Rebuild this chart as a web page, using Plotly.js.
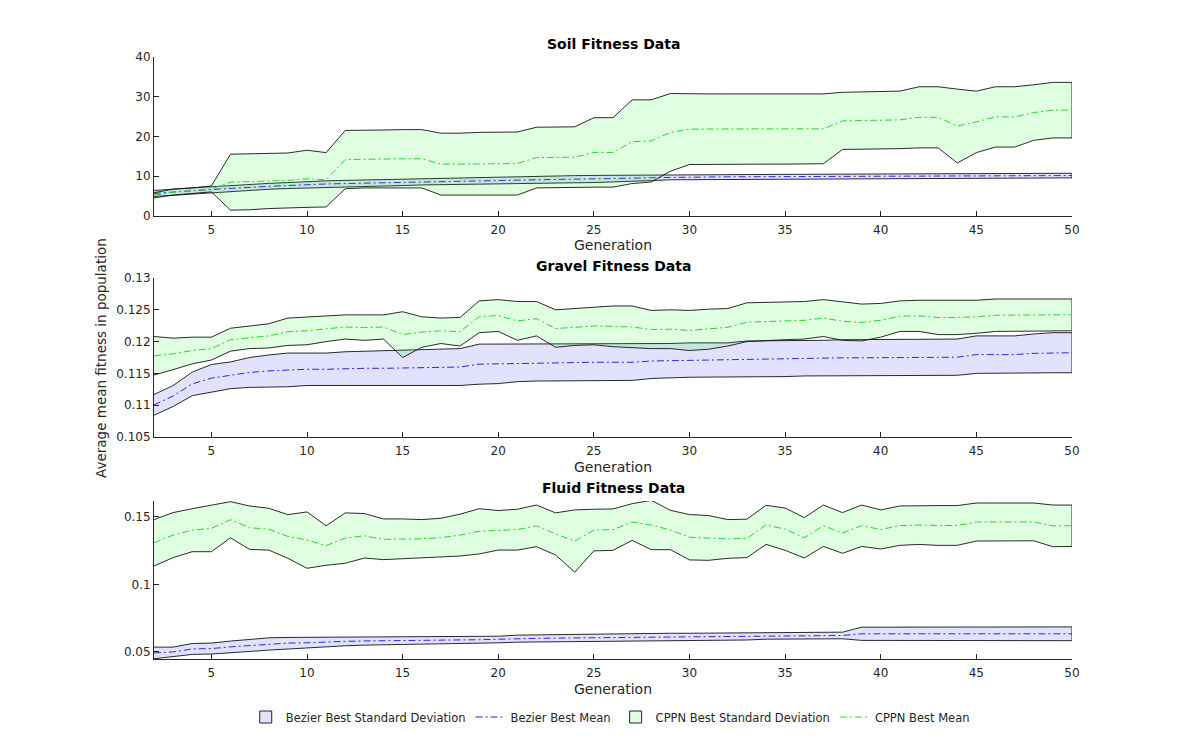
<!DOCTYPE html>
<html>
<head>
<meta charset="utf-8">
<script src="https://cdn.plot.ly/plotly-3.0.1.min.js"></script>
<style>
  html, body { margin: 0; padding: 0; background: #fff; }
  #chart { width: 1186px; height: 742px; }
</style>
</head>
<body>
<div id="chart"></div>
<script>
// Generations 2..50
const generations = [2,3,4,5,6,7,8,9,10,11,12,13,14,15,16,17,18,19,20,21,22,23,24,25,26,
  27,28,29,30,31,32,33,34,35,36,37,38,39,40,41,42,43,44,45,46,47,48,49,50];

// Soil fitness
const soilBezierMean = [5.6,6.0,6.3,6.6,6.9,7.1,7.4,7.6,7.85,8.0,8.1,8.2,8.3,8.4,8.55,8.7,8.8,8.9,9.0,9.05,
  9.1,9.15,9.2,9.25,9.35,9.45,9.55,9.65,9.75,9.8,9.8,9.82,9.84,9.86,9.88,9.9,9.9,9.92,9.94,9.96,
  9.98,10.0,10.0,10.02,10.04,10.06,10.08,10.1,10.12];
const soilBezierStd = [0.75,0.75,0.72,0.7,0.72,0.73,0.74,0.75,0.75,0.78,0.8,0.8,0.8,0.8,0.8,0.82,0.82,0.85,0.88,0.88,
  0.88,0.9,0.9,0.9,0.85,0.8,0.7,0.6,0.55,0.55,0.55,0.55,0.56,0.56,0.56,0.57,0.57,0.57,0.58,0.58,
  0.58,0.58,0.58,0.58,0.58,0.58,0.58,0.58,0.58];
const soilCppnMean = [5.15,5.95,6.3,6.75,8.45,8.55,8.75,8.9,9.3,9.05,14.15,14.25,14.3,14.35,14.35,13.0,13.0,13.1,13.15,13.15,
  14.65,14.65,14.75,15.95,15.95,18.65,18.85,21.0,21.8,21.85,21.85,21.85,21.85,21.85,21.85,21.9,23.9,24.0,24.0,24.15,
  24.8,24.8,22.6,23.65,24.9,24.9,26.0,26.6,26.6];
const soilCppnStd = [0.65,0.75,0.7,0.75,7.05,7.05,6.95,6.9,7.2,6.85,7.35,7.25,7.3,7.35,7.35,7.8,7.8,7.9,7.95,7.95,
  7.65,7.65,7.65,8.75,8.75,10.55,10.35,9.8,8.9,8.85,8.85,8.85,8.85,8.85,8.85,8.8,7.2,7.2,7.2,7.25,
  7.7,7.7,9.3,7.75,7.6,7.6,7.0,7.0,7.0];

// Gravel fitness
const gravelBezierMean = [0.11005,0.11145,0.11335,0.11425,0.1147,0.11515,0.1154,0.11555,0.11565,0.11565,0.11575,0.1158,0.1158,0.11585,0.11595,0.11595,0.116,0.11645,0.1165,0.11665,
  0.1167,0.1167,0.11675,0.11675,0.11675,0.11675,0.11695,0.117,0.1171,0.11715,0.11715,0.1173,0.1173,0.1173,0.11735,0.1174,0.11745,0.11745,0.11745,0.11755,
  0.11755,0.11755,0.11755,0.11795,0.11795,0.11795,0.11815,0.11825,0.11825];
const gravelBezierStd = [0.00163,0.00165,0.00185,0.00215,0.0021,0.00235,0.0025,0.00265,0.00255,0.00255,0.00265,0.0027,0.0027,0.00275,0.00285,0.00285,0.0029,0.00315,0.0031,0.00295,
  0.0029,0.0029,0.00285,0.00285,0.00285,0.00285,0.00275,0.0027,0.0027,0.00265,0.00265,0.0028,0.0028,0.0028,0.00275,0.0028,0.00285,0.00285,0.00285,0.00285,
  0.00285,0.00285,0.00285,0.00295,0.00295,0.00295,0.00305,0.00315,0.00315];
const gravelCppnMean = [0.11777,0.11807,0.1186,0.1189,0.1203,0.12065,0.1209,0.12155,0.1217,0.122,0.1223,0.1222,0.1223,0.1211,0.1215,0.1217,0.12155,0.1239,0.1241,0.12325,
  0.1236,0.12205,0.1223,0.12245,0.1224,0.1223,0.1219,0.12195,0.12175,0.12195,0.12225,0.12305,0.1232,0.12325,0.12335,0.1237,0.1232,0.123,0.12335,0.124,
  0.12405,0.1238,0.1238,0.1239,0.12415,0.1242,0.1242,0.1242,0.1242];
const gravelCppnStd = [0.00303,0.00247,0.0021,0.0018,0.0018,0.00175,0.0019,0.00215,0.0022,0.002,0.0019,0.002,0.0019,0.0036,0.0024,0.002,0.00225,0.0025,0.0025,0.00305,
  0.0027,0.00295,0.0029,0.00295,0.0032,0.0033,0.003,0.00305,0.00315,0.00315,0.00295,0.00305,0.003,0.00295,0.00295,0.0029,0.003,0.0029,0.00265,0.0024,
  0.00245,0.0027,0.0027,0.0026,0.00255,0.0025,0.0025,0.0025,0.0025];

// Fluid fitness
const fluidBezierMean = [0.0491,0.04985,0.05205,0.05235,0.0536,0.05465,0.05575,0.0564,0.0566,0.0573,0.0577,0.058,0.05825,0.0584,0.0585,0.05865,0.05875,0.0589,0.05905,0.0597,
  0.0599,0.0601,0.0603,0.06055,0.06075,0.06085,0.0609,0.061,0.06105,0.06115,0.0612,0.06125,0.0616,0.0618,0.06185,0.0619,0.06205,0.0633,0.0633,0.0633,
  0.0633,0.0633,0.0633,0.0633,0.0633,0.0633,0.0633,0.0633,0.0633];
const fluidBezierStd = [0.0043,0.00355,0.00405,0.00405,0.0043,0.00445,0.00455,0.0042,0.0041,0.0036,0.0033,0.0031,0.00285,0.0028,0.0027,0.00265,0.00255,0.0025,0.00245,0.0026,
  0.0026,0.0026,0.0026,0.00265,0.00275,0.00275,0.0027,0.0027,0.00265,0.00265,0.0026,0.00255,0.0023,0.0022,0.00225,0.0023,0.00245,0.0049,0.0049,0.0049,
  0.0049,0.0049,0.0049,0.0049,0.0049,0.0049,0.0051,0.0051,0.0051];
const fluidCppnMean = [0.1308,0.1365,0.14015,0.1415,0.1479,0.142,0.1409,0.1355,0.1328,0.12875,0.1343,0.136,0.1334,0.13365,0.13375,0.1346,0.1365,0.1393,0.14005,0.14055,
  0.14335,0.13735,0.1321,0.14025,0.14055,0.1462,0.144,0.1403,0.1349,0.1344,0.13365,0.13405,0.1441,0.1409,0.1345,0.14345,0.1381,0.14345,0.1407,0.1435,
  0.144,0.14365,0.14365,0.1462,0.1463,0.1463,0.1463,0.14335,0.14345];
const fluidCppnStd = [0.0172,0.0167,0.01595,0.0173,0.0134,0.0161,0.0155,0.0162,0.0209,0.01465,0.0187,0.0165,0.0151,0.01485,0.01425,0.0144,0.0155,0.0168,0.01465,0.01515,
  0.01545,0.01565,0.0231,0.01545,0.01535,0.0136,0.0183,0.0146,0.0168,0.0166,0.01435,0.01425,0.0145,0.0157,0.015,0.01535,0.0151,0.01535,0.0145,0.0146,
  0.0144,0.01475,0.01475,0.0141,0.014,0.014,0.014,0.01545,0.01535];

// Panel titles, axis ranges and tick labels
const panelTitles = ['Soil Fitness Data', 'Gravel Fitness Data', 'Fluid Fitness Data'];
const xTickVals = [5,10,15,20,25,30,35,40,45,50];
const soilTickVals = [0,10,20,30,40];
const soilTickText = ['0','10','20','30','40'];
const gravelTickVals = [0.105,0.11,0.115,0.12,0.125,0.13];
const gravelTickText = ['0.105','0.11','0.115','0.12','0.125','0.13'];
const fluidTickVals = [0.05,0.1,0.15];
const fluidTickText = ['0.05','0.1','0.15'];
const seriesNames = ['Bezier Best Standard Deviation','Bezier Best Mean','CPPN Best Standard Deviation','CPPN Best Mean'];

const FONT = 'DejaVu Sans, Arial, sans-serif';
const AXIS_COLOR = '#262626';
const bezierFill = 'rgba(0,0,255,0.115)';
const cppnFill = 'rgba(0,255,0,0.12)';
const bezierLegendFill = 'rgb(226,226,255)';
const cppnLegendFill = 'rgb(224,255,224)';
const bezierLine = 'rgb(40,40,230)';
const cppnLine = 'rgb(40,215,40)';
const DASHDOT = '7px,3px,2px,3px';

// Shaded band between mean - std and mean + std, outlined in black
function band(mean, std, name, fill, xa, ya) {
  const upper = mean.map((m, i) => m + std[i]);
  const lower = mean.map((m, i) => m - std[i]);
  return {
    x: generations.concat(generations.slice().reverse()),
    y: upper.concat(lower.slice().reverse()),
    type: 'scatter', mode: 'lines', fill: 'toself',
    fillcolor: fill, line: {color: 'rgba(20,20,20,0.9)', width: 1},
    name: name, legendgroup: name, showlegend: false,
    xaxis: xa, yaxis: ya, hoverinfo: 'skip'
  };
}
// Legend key for a band: an outlined patch
function bandKey(name, fill) {
  return {
    x: [null], y: [null], type: 'bar', name: name, legendgroup: name,
    marker: {color: fill, line: {color: '#222', width: 1}},
    showlegend: true, xaxis: 'x', yaxis: 'y', hoverinfo: 'skip'
  };
}
function meanLine(mean, name, color, xa, ya, show) {
  return {
    x: generations, y: mean, type: 'scatter', mode: 'lines',
    line: {color: color, width: 1, dash: DASHDOT},
    name: name, legendgroup: name, showlegend: show,
    xaxis: xa, yaxis: ya
  };
}

const panels = [
  [soilBezierMean, soilBezierStd, soilCppnMean, soilCppnStd],
  [gravelBezierMean, gravelBezierStd, gravelCppnMean, gravelCppnStd],
  [fluidBezierMean, fluidBezierStd, fluidCppnMean, fluidCppnStd]
];
const axisIds = [['x', 'y'], ['x2', 'y2'], ['x3', 'y3']];

const traces = [];
panels.forEach((p, k) => {
  const [xa, ya] = axisIds[k];
  const show = k === 0;
  traces.push(band(p[0], p[1], seriesNames[0], bezierFill, xa, ya));
  if (show) traces.push(bandKey(seriesNames[0], bezierLegendFill));
  traces.push(meanLine(p[0], seriesNames[1], bezierLine, xa, ya, show));
  traces.push(band(p[2], p[3], seriesNames[2], cppnFill, xa, ya));
  if (show) traces.push(bandKey(seriesNames[2], cppnLegendFill));
  traces.push(meanLine(p[2], seriesNames[3], cppnLine, xa, ya, show));
});

const H = 742;
const frac = px => 1 - px / H;

function xAxis(anchor) {
  return {
    anchor: anchor, domain: [0, 1], range: [2, 50],
    tickmode: 'array', tickvals: xTickVals,
    ticks: 'inside', ticklen: 5, tickcolor: AXIS_COLOR, tickwidth: 1,
    ticklabelstandoff: 3,
    showline: true, linecolor: AXIS_COLOR, linewidth: 1,
    showgrid: false, zeroline: false,
    tickfont: {family: FONT, size: 12, color: AXIS_COLOR},
    title: {text: 'Generation', font: {family: FONT, size: 14, color: AXIS_COLOR}, standoff: 4}
  };
}
function yAxis(domain, range, vals, text, anchor) {
  return {
    anchor: anchor, domain: domain, range: range,
    tickmode: 'array', tickvals: vals, ticktext: text,
    ticks: 'inside', ticklen: 5, tickcolor: AXIS_COLOR, tickwidth: 1,
    showline: true, linecolor: AXIS_COLOR, linewidth: 1,
    showgrid: false, zeroline: false,
    tickfont: {family: FONT, size: 12, color: AXIS_COLOR}
  };
}

const titleY = [44, 266, 488];
const annotations = panelTitles.map((t, k) => ({
  text: '<b>' + t + '</b>', xref: 'paper', yref: 'paper',
  x: 0.5, y: frac(titleY[k]), xanchor: 'center', yanchor: 'middle',
  showarrow: false, font: {family: FONT, size: 14, color: '#000'}
}));
annotations.push({
  text: 'Average mean fitness in population', xref: 'paper', yref: 'paper',
  x: (101 - 154) / 918, y: frac(358), xanchor: 'center', yanchor: 'middle',
  textangle: -90, showarrow: false, font: {family: FONT, size: 13.5, color: AXIS_COLOR}
});

const layout = {
  width: 1186, height: 742,
  margin: {l: 154, r: 114, t: 0, b: 0},
  paper_bgcolor: '#fff', plot_bgcolor: '#fff',
  showlegend: true,
  legend: {
    orientation: 'h', x: 0.497, xanchor: 'center', y: frac(717), yanchor: 'middle',
    font: {family: FONT, size: 11.5, color: AXIS_COLOR},
    itemwidth: 30, tracegroupgap: 0, bgcolor: 'rgba(0,0,0,0)',
    traceorder: 'normal'
  },
  xaxis: xAxis('y'),
  yaxis: yAxis([frac(215.7), frac(57)], [0, 40], soilTickVals, soilTickText, 'x'),
  xaxis2: xAxis('y2'),
  yaxis2: yAxis([frac(437), frac(278)], [0.105, 0.13], gravelTickVals, gravelTickText, 'x2'),
  xaxis3: xAxis('y3'),
  yaxis3: yAxis([frac(659), frac(501)], [0.0446, 0.1618], fluidTickVals, fluidTickText, 'x3'),
  annotations: annotations
};

Plotly.newPlot('chart', traces, layout, {staticPlot: true, displayModeBar: false});
</script>
</body>
</html>
